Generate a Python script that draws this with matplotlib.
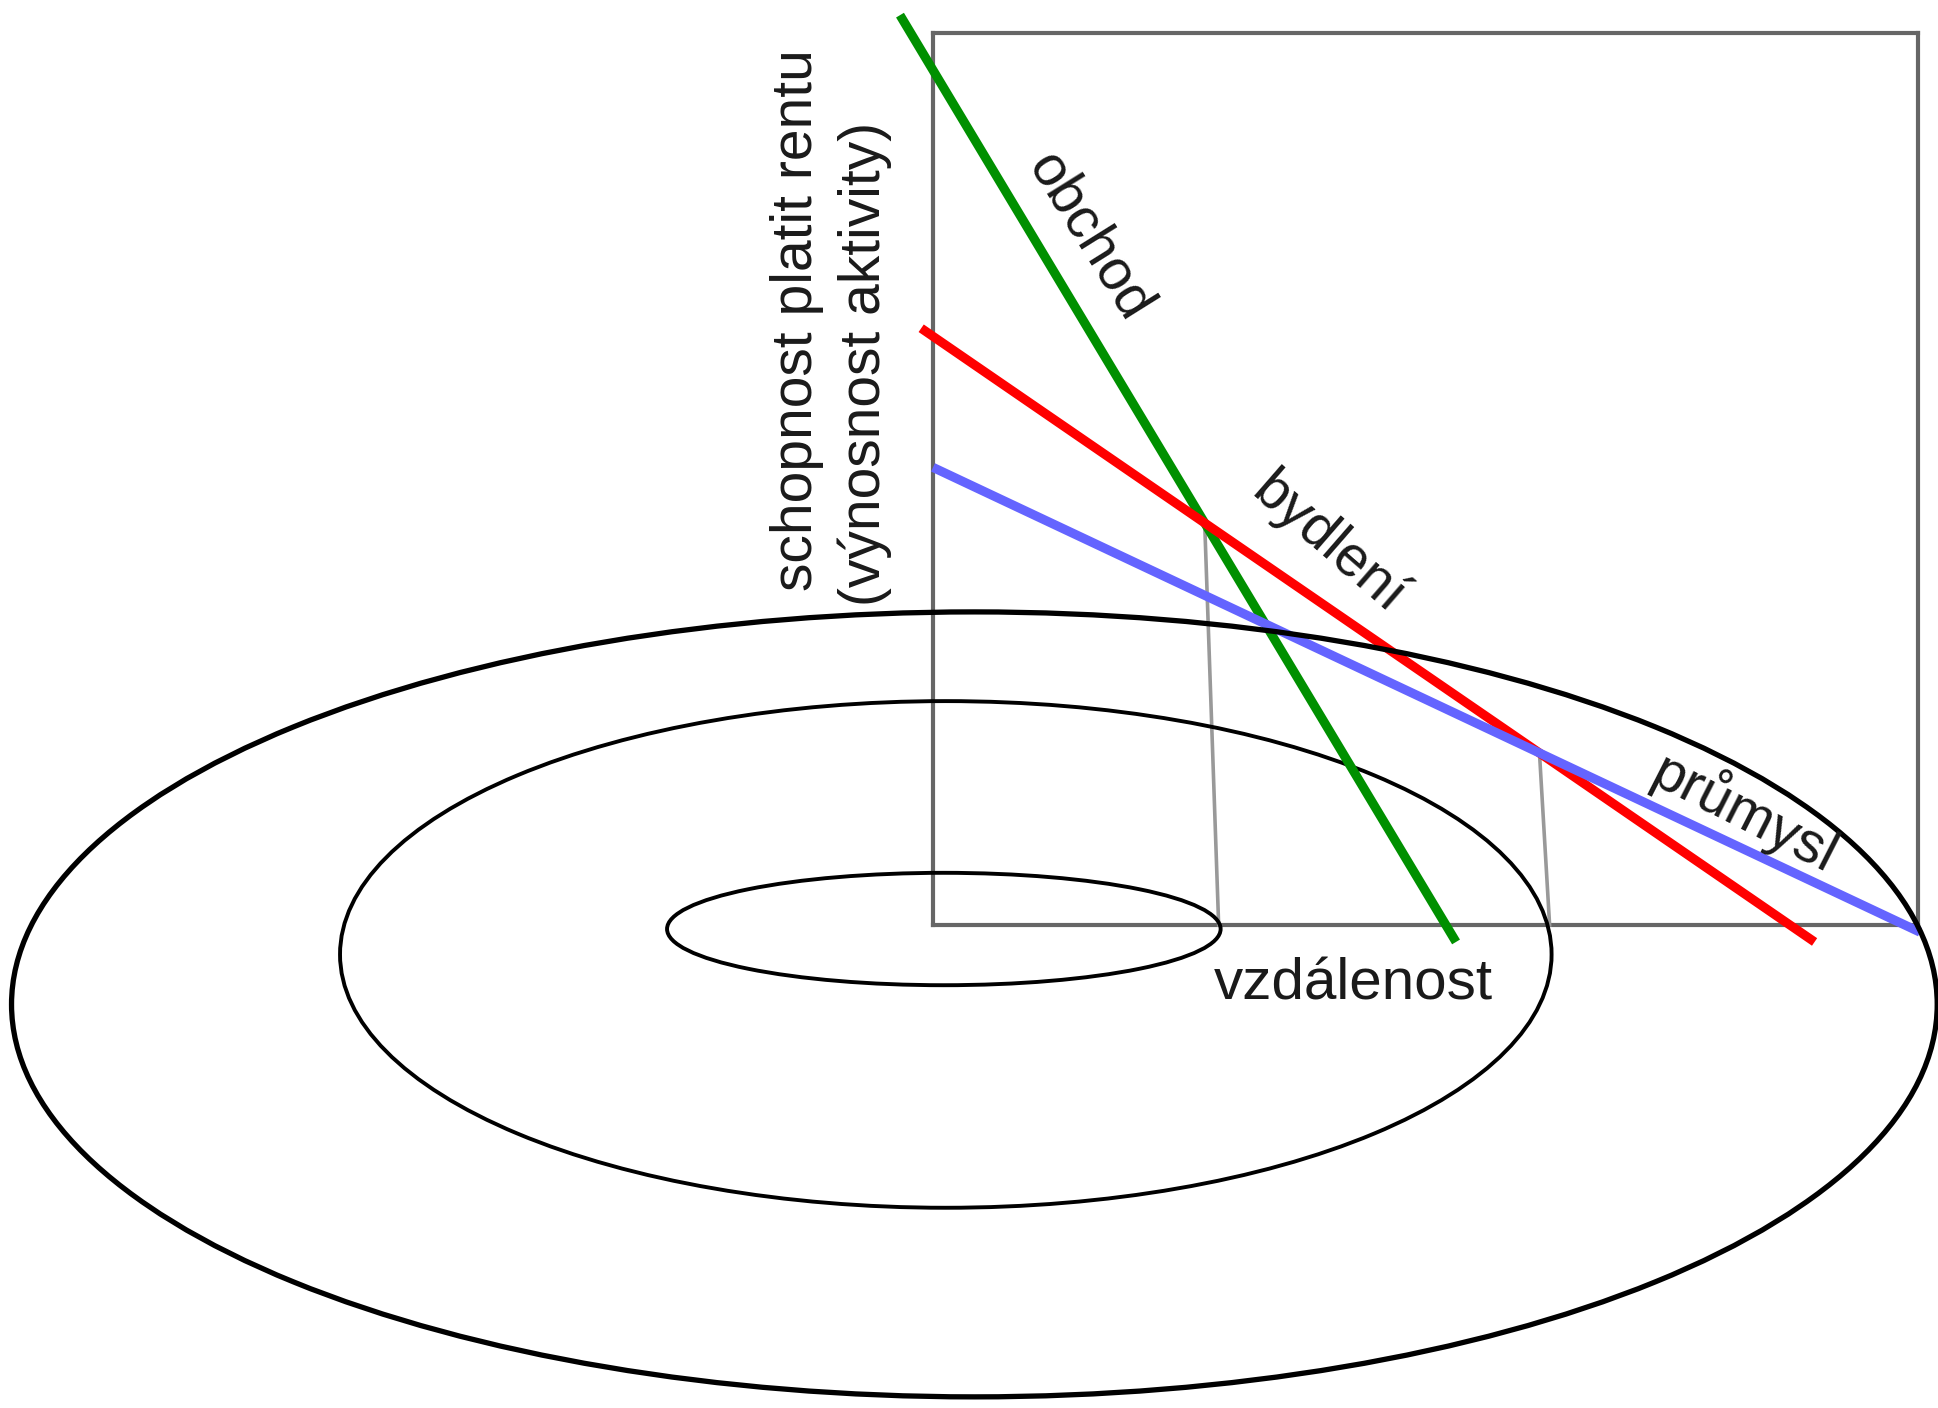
import numpy as np
import matplotlib
matplotlib.use("Agg")
import matplotlib.pyplot as plt
from matplotlib.patches import Ellipse

plt.rcParams['font.family'] = ['Liberation Sans', 'DejaVu Sans']

# ---------------- data ----------------
# bid-rent lines (distance, rent) endpoints; box spans distance 0..100, rent 0..100
activities = ['obchod', 'bydlení', 'průmysl']
line_colors = ['#009000', '#ff0000', '#6464ff']
line_x0 = [-3.35, -1.2, 0.0]
line_y0 = [102.0, 66.9, 51.3]
line_x1 = [53.1, 89.5, 100.2]
line_y1 = [-1.9, -1.9, -0.8]

# concentric zones (perspective ellipses on the ground plane)
zone_cx = [1.1, 1.3, 4.2]
zone_cy = [-0.45, -3.3, -8.9]
zone_w = [56.2, 123.0, 195.5]
zone_h = [12.6, 56.8, 88.0]
zone_lw = [2.8, 2.8, 3.8]

# where the projected boundaries meet the distance axis
zone_edge = [29.0, 62.6]

# label placement
label_x = [15.9, 40.2, 82.4]
label_y = [77.1, 42.7, 12.6]
label_rot = [-58, -41, -27]

ylabel_lines = ['schopnost platit rentu', '(výnosnost aktivity)']
ylabel_x = [-12.3, -5.4]
ylabel_y = [37.4, 35.8]
xlabel_text = 'vzdálenost'
xlabel_pos = (42.7, -8.4)

# ---------------- figure ----------------
W, H = 1938, 1408
fig = plt.figure(figsize=(W / 100, H / 100), dpi=100)
fig.patch.set_facecolor('white')
ax = fig.add_axes([933 / W, (H - 925) / H, 985 / W, 892 / H])
ax.set_xlim(0, 100)
ax.set_ylim(0, 100)
ax.set_xticks([])
ax.set_yticks([])
for s in ax.spines.values():
    s.set_color('#666666')
    s.set_linewidth(3.0)
    s.set_zorder(1)

# bid-rent lines
slopes = []
inters = []
for x0, y0, x1, y1, c in zip(line_x0, line_y0, line_x1, line_y1, line_colors):
    ax.plot([x0, x1], [y0, y1], color=c, lw=6.6, solid_capstyle='butt',
            clip_on=False, zorder=4)
    k = (y1 - y0) / (x1 - x0)
    slopes.append(k)
    inters.append(y0 - k * x0)

# intersections obchod/bydlení and bydlení/průmysl
pairs = [(0, 1), (1, 2)]
for (i, j), xe in zip(pairs, zone_edge):
    xi = (inters[j] - inters[i]) / (slopes[i] - slopes[j])
    yi = inters[i] + slopes[i] * xi
    ax.plot([xi, xe], [yi, 0], color='#999999', lw=2.6, clip_on=False, zorder=2)

# zone ellipses
for k, (cx, cy, w, h, lw) in enumerate(zip(zone_cx, zone_cy, zone_w, zone_h, zone_lw)):
    e = Ellipse((cx, cy), w, h, fill=False, edgecolor='black', lw=lw,
                clip_on=False, zorder=5 if k == 2 else 3)
    ax.add_patch(e)

# labels
for t, x, y, r in zip(activities, label_x, label_y, label_rot):
    ax.text(x, y, t, rotation=r, rotation_mode='anchor', ha='center', va='center',
            fontsize=41, color='#1a1a1a', clip_on=False, zorder=6)

for t, x, y in zip(ylabel_lines, ylabel_x, ylabel_y):
    ax.text(x, y, t, rotation=90, rotation_mode='anchor', ha='left', va='baseline',
            fontsize=41, color='#1a1a1a', clip_on=False)

ax.text(xlabel_pos[0], xlabel_pos[1], xlabel_text, ha='center', va='baseline',
        fontsize=42, color='#1a1a1a', clip_on=False)

fig.savefig('out.png', dpi=100, facecolor='white')
